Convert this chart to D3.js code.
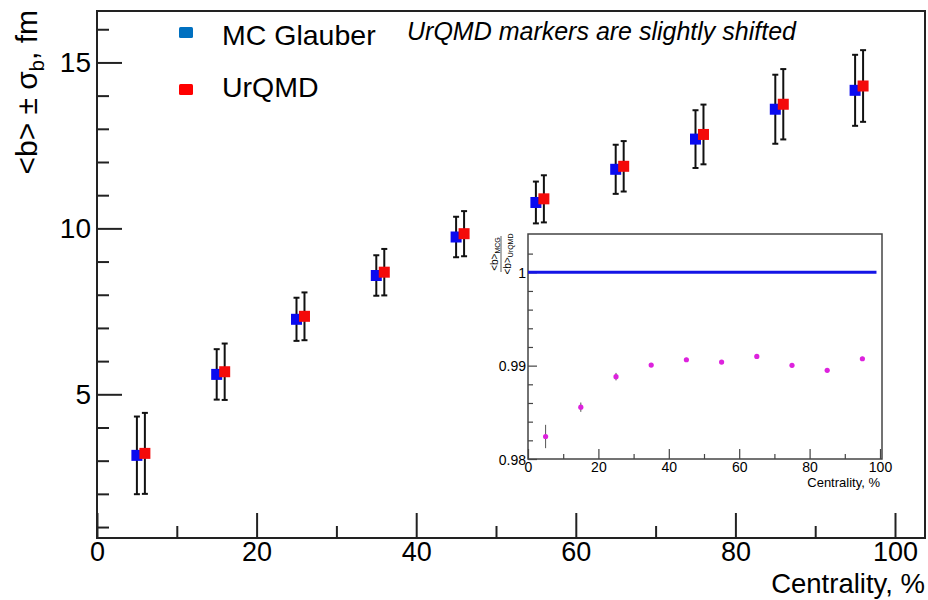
<!DOCTYPE html>
<html>
<head>
    <title>Impact parameter vs centrality</title>
    <script src="https://d3js.org/d3.v7.min.js"></script>
    <style>
        body { margin: 0; background: #fff; }
        text { font-family: "Liberation Sans", Arial, sans-serif; fill: #000; }
    </style>
</head>
<body>
    <svg width="928" height="600"></svg>
    <script>
        // centrality bin centres, %
        var centrality = [5, 15, 25, 35, 45, 55, 65, 75, 85, 95];

        // MC Glauber: <b> and sigma_b, fm
        var glauberB = [3.16, 5.60, 7.26, 8.58, 9.74, 10.78, 11.78, 12.69, 13.59, 14.16];
        var glauberSigma = [1.17, 0.76, 0.65, 0.61, 0.61, 0.63, 0.74, 0.87, 1.04, 1.07];

        // UrQMD: <b> and sigma_b, fm (drawn shifted by 1% in centrality)
        var urqmdB = [3.22, 5.68, 7.35, 8.68, 9.84, 10.89, 11.87, 12.83, 13.74, 14.29];
        var urqmdSigma = [1.22, 0.85, 0.72, 0.70, 0.68, 0.71, 0.76, 0.90, 1.06, 1.08];
        var urqmdShift = 1;

        // inset: ratio <b>MCG / <b>UrQMD
        var ratio = [0.98241, 0.98555, 0.98882, 0.99006, 0.99063, 0.99038, 0.99099, 0.99003, 0.98950, 0.99074];
        var ratioErr = [0.00125, 0.0005, 0.0004, 0.0002, 0.0002, 0.0002, 0.0002, 0.0002, 0.0002, 0.0002];
        var unityLine = [[0, 1], [99, 1]];

        // tick values
        var xMajor = [0, 20, 40, 60, 80, 100];
        var xMinor = [10, 30, 50, 70, 90];
        var yMajor = [5, 10, 15];
        var yMinor = [1, 2, 3, 4, 6, 7, 8, 9, 11, 12, 13, 14, 16];
        var insetYMajor = [0.98, 0.99, 1];
        var insetYMinor = [0.982, 0.984, 0.986, 0.988, 0.992, 0.994, 0.996, 0.998, 1.002];

        var svg = d3.select("svg");

        // ---------- main pad ----------
        var x = d3.scaleLinear().domain([0, 100]).range([97, 895]);
        var y = d3.scaleLinear().domain([0.67, 16.55]).range([538, 11]);

        svg.append("rect")
            .attr("x", 97).attr("y", 11)
            .attr("width", 925 - 97).attr("height", 538 - 11)
            .attr("fill", "none").attr("stroke", "#222").attr("stroke-width", 2);

        var gx = svg.append("g")
            .attr("transform", "translate(0,538)")
            .call(d3.axisBottom(x).tickValues(xMajor).tickSize(-25).tickPadding(4));
        var gx2 = svg.append("g")
            .attr("transform", "translate(0,538)")
            .call(d3.axisBottom(x).tickValues(xMinor).tickSize(-12).tickFormat(""));
        var gy = svg.append("g")
            .attr("transform", "translate(97,0)")
            .call(d3.axisLeft(y).tickValues(yMajor).tickSize(-25).tickPadding(6));
        var gy2 = svg.append("g")
            .attr("transform", "translate(97,0)")
            .call(d3.axisLeft(y).tickValues(yMinor).tickSize(-12).tickFormat(""));

        [gx, gx2, gy, gy2].forEach(function(g) {
            g.select(".domain").remove();
            g.selectAll(".tick line").attr("stroke", "#222").attr("stroke-width", 2);
        });
        gx.selectAll("text").attr("font-size", 27).attr("dy", "0.71em");
        gy.selectAll("text").attr("font-size", 28);

        svg.append("text")
            .attr("x", 925).attr("y", 593)
            .attr("text-anchor", "end")
            .attr("font-size", 27.5)
            .text("Centrality, %");

        var ylab = svg.append("text")
            .attr("transform", "translate(37,10) rotate(-90)")
            .attr("text-anchor", "end")
            .attr("font-size", 30);
        ylab.append("tspan").text("<b> \u00b1 \u03c3");
        ylab.append("tspan").attr("font-size", 20).attr("dy", 7).text("b");
        ylab.append("tspan").attr("dy", -7).text(", fm");

        // error bars + markers
        function drawSeries(vals, sig, shift, color) {
            var g = svg.append("g");
            var pts = centrality.map(function(c, i) { return { c: c + shift, v: vals[i], s: sig[i] }; });
            g.selectAll("line.bar").data(pts).enter().append("line")
                .attr("x1", function(d) { return x(d.c); })
                .attr("x2", function(d) { return x(d.c); })
                .attr("y1", function(d) { return y(d.v - d.s); })
                .attr("y2", function(d) { return y(d.v + d.s); })
                .attr("stroke", "#111").attr("stroke-width", 2);
            [-1, 1].forEach(function(k) {
                g.selectAll(null).data(pts).enter().append("line")
                    .attr("x1", function(d) { return x(d.c) - 3; })
                    .attr("x2", function(d) { return x(d.c) + 3; })
                    .attr("y1", function(d) { return y(d.v + k * d.s); })
                    .attr("y2", function(d) { return y(d.v + k * d.s); })
                    .attr("stroke", "#111").attr("stroke-width", 2);
            });
            g.selectAll("rect").data(pts).enter().append("rect")
                .attr("x", function(d) { return x(d.c) - 5.5; })
                .attr("y", function(d) { return y(d.v) - 5.5; })
                .attr("width", 11).attr("height", 11)
                .attr("fill", color);
        }
        drawSeries(glauberB, glauberSigma, 0, "#0a0af0");
        drawSeries(urqmdB, urqmdSigma, urqmdShift, "#f40a0a");

        // legend
        var legend = [["MC Glauber", "#0070c0"], ["UrQMD", "#ff0000"]];
        legend.forEach(function(l, i) {
            svg.append("rect")
                .attr("x", 179).attr("y", 27 + i * 57)
                .attr("width", 14).attr("height", 11).attr("rx", 1.5)
                .attr("fill", l[1]);
            svg.append("text")
                .attr("x", 222).attr("y", 45 + i * 52)
                .attr("font-family", "Open Sans")
                .attr("font-size", 28.5)
                .text(l[0]);
        });
        svg.append("text")
            .attr("x", 407).attr("y", 40)
            .attr("font-family", "Open Sans")
            .attr("font-style", "italic")
            .attr("font-size", 25)
            .text("UrQMD markers are slightly shifted");

        // ---------- inset pad ----------
        var ix = d3.scaleLinear().domain([0, 100]).range([528, 880]);
        var iy = d3.scaleLinear().domain([0.98, 1.0041]).range([459, 234]);

        svg.append("rect")
            .attr("x", 528).attr("y", 234)
            .attr("width", 882 - 528).attr("height", 459 - 234)
            .attr("fill", "#fff").attr("stroke", "#444").attr("stroke-width", 1.5);

        var igx = svg.append("g")
            .attr("transform", "translate(0,459)")
            .call(d3.axisBottom(ix).tickValues(xMajor).tickSize(-10).tickPadding(3));
        var igx2 = svg.append("g")
            .attr("transform", "translate(0,459)")
            .call(d3.axisBottom(ix).tickValues(xMinor).tickSize(-5).tickFormat(""));
        var igy = svg.append("g")
            .attr("transform", "translate(528,0)")
            .call(d3.axisLeft(iy).tickValues(insetYMajor).tickSize(-9).tickPadding(2)
                .tickFormat(function(d) { return d === 1 ? "1" : d3.format(".2f")(d); }));
        var igy2 = svg.append("g")
            .attr("transform", "translate(528,0)")
            .call(d3.axisLeft(iy).tickValues(insetYMinor).tickSize(-5).tickFormat(""));

        [igx, igx2, igy, igy2].forEach(function(g) {
            g.select(".domain").remove();
            g.selectAll(".tick line").attr("stroke", "#444").attr("stroke-width", 1.2);
        });
        igx.selectAll("text").attr("font-size", 14).attr("dy", "0.71em");
        igy.selectAll("text").attr("font-size", 14).attr("dy", "0.36em");

        svg.append("text")
            .attr("x", 880).attr("y", 487)
            .attr("text-anchor", "end")
            .attr("font-size", 13)
            .text("Centrality, %");

        // inset y label (fraction)
        var fr = svg.append("g").attr("transform", "translate(501,254) rotate(-90)");
        var num = fr.append("text").attr("y", -3).attr("text-anchor", "middle").attr("font-size", 10);
        num.append("tspan").text("<b>");
        num.append("tspan").attr("font-size", 7).attr("dy", 2).text("MCG");
        fr.append("line").attr("x1", -18).attr("x2", 18).attr("y1", 0).attr("y2", 0)
            .attr("stroke", "#333").attr("stroke-width", 0.8);
        var den = fr.append("text").attr("y", 10).attr("text-anchor", "middle").attr("font-size", 10);
        den.append("tspan").text("<b>");
        den.append("tspan").attr("font-size", 7).attr("dy", 2).text("UrQMD");

        // unity line
        svg.append("path")
            .datum(unityLine)
            .attr("d", d3.line().x(function(d) { return ix(d[0]); }).y(function(d) { return iy(d[1]); }))
            .attr("stroke", "#1414e6").attr("stroke-width", 3).attr("fill", "none");

        // ratio points
        var rp = centrality.map(function(c, i) { return { c: c, v: ratio[i], e: ratioErr[i] }; });
        svg.append("g").selectAll("line").data(rp).enter().append("line")
            .attr("x1", function(d) { return ix(d.c); })
            .attr("x2", function(d) { return ix(d.c); })
            .attr("y1", function(d) { return iy(d.v - d.e); })
            .attr("y2", function(d) { return iy(d.v + d.e); })
            .attr("stroke", "#555").attr("stroke-width", 1);
        svg.append("g").selectAll("circle").data(rp).enter().append("circle")
            .attr("cx", function(d) { return ix(d.c); })
            .attr("cy", function(d) { return iy(d.v); })
            .attr("r", 2.6)
            .attr("fill", "#dd22dd");
    </script>
</body>
</html>
